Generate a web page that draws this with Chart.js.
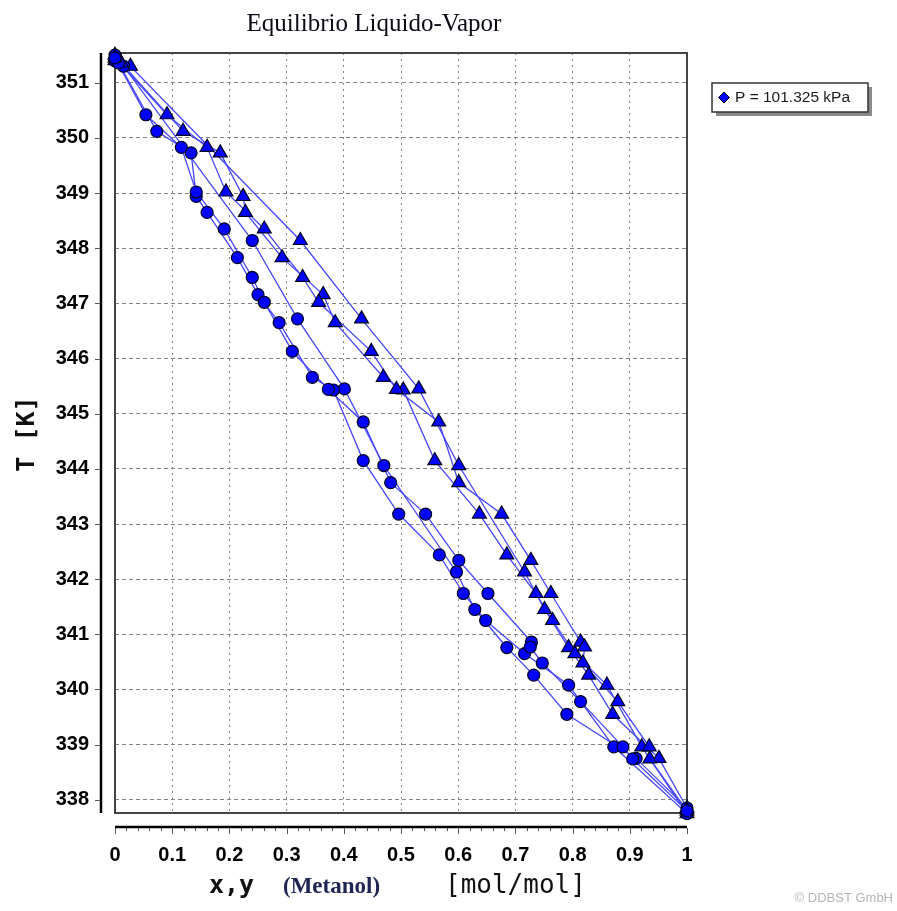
<!DOCTYPE html>
<html>
<head>
<meta charset="utf-8">
<script src="https://cdn.jsdelivr.net/npm/chart.js@4.4.1/dist/chart.umd.min.js"></script>
<style>
  html, body { margin: 0; padding: 0; background: #fff; }
</style>
</head>
<body>
<canvas id="vle" width="897" height="911"></canvas>
<script>
// isobaric T-x-y data, methanol mole fraction, P = 101.325 kPa
const set1T = [351.45, 350.42, 349.83, 349.02, 348.35, 347.47, 347.02, 346.13, 345.44, 344.85, 343.75, 343.18, 342.34, 341.74, 340.86, 340.77, 340.48, 339.78, 338.96, 338.74, 337.8];
const set1X = [0, 0.054, 0.116, 0.142, 0.191, 0.240, 0.261, 0.310, 0.373, 0.434, 0.482, 0.543, 0.601, 0.652, 0.728, 0.726, 0.747, 0.814, 0.888, 0.905, 1];
const set1Y = [0, 0.091, 0.161, 0.194, 0.261, 0.328, 0.356, 0.448, 0.492, 0.566, 0.601, 0.676, 0.727, 0.762, 0.814, 0.821, 0.818, 0.879, 0.934, 0.935, 1];

const set2T = [351.5, 351.36, 350.12, 349.73, 348.94, 348.65, 347.83, 347.16, 346.65, 345.66, 345.43, 344.15, 343.18, 342.44, 341.74, 341.25, 340.65, 340.08, 338.96, 337.75];
const set2X = [0, 0.006, 0.073, 0.133, 0.142, 0.161, 0.214, 0.250, 0.287, 0.345, 0.382, 0.434, 0.496, 0.567, 0.609, 0.648, 0.716, 0.793, 0.872, 1];
const set2Y = [0, 0.011, 0.119, 0.184, 0.224, 0.228, 0.292, 0.364, 0.385, 0.469, 0.504, 0.559, 0.637, 0.685, 0.736, 0.765, 0.804, 0.860, 0.921, 1];

const set3T = [351.4, 351.3, 348.14, 346.72, 345.45, 344.06, 342.13, 341.45, 340.76, 340.26, 339.55, 338.75, 337.85];
const set3X = [0, 0.015, 0.240, 0.319, 0.401, 0.470, 0.597, 0.629, 0.685, 0.732, 0.790, 0.911, 1];
const set3Y = [0, 0.027, 0.324, 0.431, 0.531, 0.601, 0.716, 0.751, 0.793, 0.828, 0.870, 0.951, 1];

const tempTicks = [338, 339, 340, 341, 342, 343, 344, 345, 346, 347, 348, 349, 350, 351];
const fracTicks = [0, 0.1, 0.2, 0.3, 0.4, 0.5, 0.6, 0.7, 0.8, 0.9, 1];

const pointBlue = "#0000ff";
const pointEdge = "#000022";
const lineBlue = "rgb(70, 70, 255)";

const sets = [
  { T: set1T, x: set1X, y: set1Y },
  { T: set2T, x: set2X, y: set2Y },
  { T: set3T, x: set3X, y: set3Y },
];

function toPoints(temps, fracs) {
  return temps.map((t, i) => ({ x: fracs[i], y: t }));
}

const datasets = [];
for (const s of sets) {
  const liquid = toPoints(s.T, s.x);
  const vapour = toPoints(s.T, s.y);
  // connecting lines go underneath all markers
  for (const pts of [liquid, vapour]) {
    datasets.push({
      data: pts,
      showLine: true,
      borderColor: lineBlue,
      borderWidth: 1.3,
      pointRadius: 0,
      order: 2,
    });
  }
  datasets.push({
    data: liquid,
    showLine: false,
    pointStyle: "circle",
    pointRadius: 6,
    backgroundColor: pointBlue,
    borderColor: pointEdge,
    borderWidth: 1.2,
    clip: false,
    order: 1,
  });
  datasets.push({
    data: vapour,
    showLine: false,
    pointStyle: "triangle",
    pointRadius: 8,
    backgroundColor: pointBlue,
    borderColor: pointEdge,
    borderWidth: 1.2,
    clip: false,
    order: 1,
  });
}

const decorations = {
  id: "decorations",
  beforeDatasetsDraw(chart) {
    const { ctx, chartArea: a, scales } = chart;
    ctx.save();

    // plot frame
    ctx.strokeStyle = "#444";
    ctx.lineWidth = 2;
    ctx.strokeRect(a.left, a.top, a.right - a.left, a.bottom - a.top);

    // detached y axis with ticks
    ctx.strokeStyle = "#000";
    ctx.lineWidth = 2.5;
    ctx.beginPath();
    ctx.moveTo(101, a.top);
    ctx.lineTo(101, a.bottom);
    ctx.stroke();
    ctx.lineWidth = 1;
    ctx.strokeStyle = "#555";
    for (const t of tempTicks) {
      const py = Math.round(scales.y.getPixelForValue(t)) + 0.5;
      ctx.beginPath();
      ctx.moveTo(95, py);
      ctx.lineTo(100, py);
      ctx.stroke();
    }

    // detached x axis with major and minor ticks
    ctx.strokeStyle = "#000";
    ctx.lineWidth = 2.5;
    ctx.beginPath();
    ctx.moveTo(a.left, 827);
    ctx.lineTo(a.right, 827);
    ctx.stroke();
    ctx.lineWidth = 1;
    ctx.strokeStyle = "#555";
    for (let i = 0; i <= 50; i++) {
      const px = Math.round(scales.x.getPixelForValue(i / 50)) + 0.5;
      ctx.beginPath();
      ctx.moveTo(px, 828);
      ctx.lineTo(px, i % 5 === 0 ? 834 : 831);
      ctx.stroke();
    }

    // title
    ctx.fillStyle = "#0a0a14";
    ctx.font = "25px 'Liberation Serif'";
    ctx.textAlign = "center";
    ctx.textBaseline = "alphabetic";
    ctx.fillText("Equilibrio Liquido-Vapor", 374, 31);

    // y axis title
    ctx.save();
    ctx.translate(34, 434);
    ctx.rotate(-Math.PI / 2);
    ctx.font = "bold 25px 'DejaVu Sans Mono'";
    ctx.fillStyle = "#111";
    ctx.fillText("T [K]", 0, 0);
    ctx.restore();

    // x axis title in three parts
    ctx.textAlign = "left";
    ctx.fillStyle = "#111";
    ctx.font = "bold 25px 'DejaVu Sans Mono'";
    ctx.fillText("x,y", 209, 893);
    ctx.fillStyle = "#1f2552";
    ctx.font = "bold 23px 'Liberation Serif'";
    ctx.fillText("(Metanol)", 283, 893);
    ctx.fillStyle = "#111";
    ctx.font = "26px 'DejaVu Sans Mono'";
    ctx.fillText("[mol/mol]", 445, 893);

    // legend box with drop shadow
    ctx.fillStyle = "#8a8a8a";
    ctx.fillRect(716, 87, 156, 29);
    ctx.fillStyle = "#fff";
    ctx.fillRect(712, 83, 156, 29);
    ctx.strokeStyle = "#333";
    ctx.lineWidth = 1.5;
    ctx.strokeRect(712, 83, 156, 29);
    ctx.fillStyle = pointBlue;
    ctx.strokeStyle = pointEdge;
    ctx.lineWidth = 1;
    ctx.beginPath();
    ctx.moveTo(724, 92);
    ctx.lineTo(729.5, 97.5);
    ctx.lineTo(724, 103);
    ctx.lineTo(718.5, 97.5);
    ctx.closePath();
    ctx.fill();
    ctx.stroke();
    ctx.fillStyle = "#1a1a1a";
    ctx.font = "15.5px 'Liberation Sans'";
    ctx.textBaseline = "middle";
    ctx.fillText("P = 101.325 kPa", 735, 98);

    // credit line
    ctx.fillStyle = "#b4b4b4";
    ctx.font = "13px 'Liberation Sans'";
    ctx.textAlign = "right";
    ctx.textBaseline = "alphabetic";
    ctx.fillText("\u00a9 DDBST GmbH", 893, 902);

    ctx.restore();
  },
};

new Chart(document.getElementById("vle"), {
  type: "scatter",
  data: { datasets },
  plugins: [decorations],
  options: {
    responsive: false,
    devicePixelRatio: 1,
    animation: false,
    layout: { padding: { top: 53, right: 210, left: 0, bottom: 0 } },
    plugins: { legend: { display: false }, tooltip: { enabled: false } },
    scales: {
      x: {
        type: "linear",
        min: 0,
        max: 1,
        afterFit: (scale) => { scale.height = 98; },
        afterBuildTicks: (scale) => { scale.ticks = fracTicks.map((v) => ({ value: v })); },
        ticks: {
          padding: 30,
          color: "#000",
          font: { family: "'Liberation Sans'", size: 20, weight: "bold" },
          callback: (v) => String(Number(v.toFixed(1))),
        },
        grid: { color: "#858585", lineWidth: 1, drawTicks: false },
        border: { display: false, dash: [2, 4] },
      },
      y: {
        type: "linear",
        min: 337.76,
        max: 351.54,
        afterFit: (scale) => { scale.width = 115; },
        afterBuildTicks: (scale) => { scale.ticks = tempTicks.map((v) => ({ value: v })); },
        ticks: {
          padding: 26,
          color: "#000",
          font: { family: "'Liberation Sans'", size: 20, weight: "bold" },
        },
        grid: { color: "#858585", lineWidth: 1, drawTicks: false },
        border: { display: false, dash: [4, 3] },
      },
    },
  },
});
</script>
</body>
</html>
